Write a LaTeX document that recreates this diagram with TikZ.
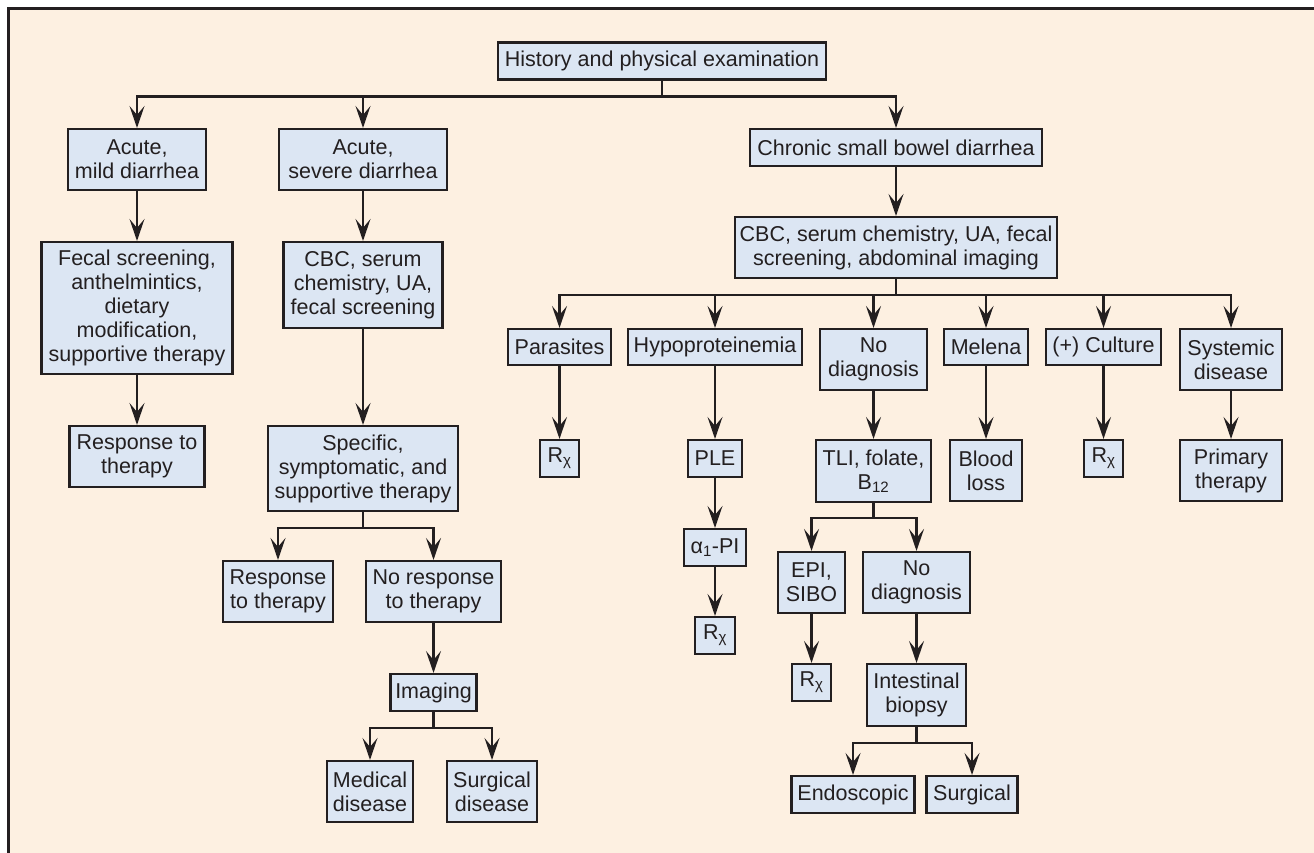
\documentclass[tikz,border=0pt]{standalone}
\usepackage{fontspec}
\setmainfont{Liberation Sans}
\usetikzlibrary{arrows.meta}
\definecolor{bg}{HTML}{FDF0E1}
\definecolor{boxfill}{HTML}{DCE6F3}
\definecolor{ink}{HTML}{231F20}
\begin{document}
\begin{tikzpicture}[x=1pt,y=-1pt,
  box/.style={draw=ink, fill=boxfill, line width=2.1pt, text=ink, align=center,
    inner xsep=3pt, inner ysep=2pt, font=\fontsize{21.5}{24}\selectfont},
  sz/.style 2 args={minimum width=#1pt, minimum height=#2pt},
  arr/.style={draw=ink, line width=2.1pt, -{Stealth[length=22pt,width=15pt,inset=9pt]}}]
\useasboundingbox (0,0) rectangle (1314,853);
\fill[white] (0,0) rectangle (1314,853);
\fill[bg] (8,9) rectangle (1314,853);
\draw[ink, line width=3pt] (8,853) -- (8,9) -- (1314,9);

% top
\node[box, sz={328}{37}] (top) at (662,61) {History and physical examination};
% left branch
\node[box, sz={138}{61}] (am) at (137,159.5) {Acute,\\mild diarrhea};
\node[box, sz={191}{132}] (fs) at (137,308) {Fecal screening,\\anthelmintics,\\dietary\\modification,\\supportive therapy};
\node[box, sz={135}{61}] (rt1) at (137,456.5) {Response to\\therapy};
% middle branch
\node[box, sz={168}{61}] (as) at (363,159.5) {Acute,\\severe diarrhea};
\node[box, sz={159}{86}] (cbc1) at (363,285) {CBC, serum\\chemistry, UA,\\fecal screening};
\node[box, sz={190}{85}] (spec) at (363,468.5) {Specific,\\symptomatic, and\\supportive therapy};
\node[box, sz={110}{61}] (rt2) at (278,591.5) {Response\\to therapy};
\node[box, sz={135}{61}] (nr) at (433.5,591.5) {No response\\to therapy};
\node[box, sz={86}{37}] (img) at (433.5,692.5) {Imaging};
\node[box, sz={86}{61}] (med) at (370,791.5) {Medical\\disease};
\node[box, sz={90}{61}] (sdis) at (492,791.5) {Surgical\\disease};
% right branch
\node[box, sz={292}{37}] (ch) at (896,147.5) {Chronic small bowel diarrhea};
\node[box, sz={322}{61}] (cbc2) at (896,247.5) {CBC, serum chemistry, UA, fecal\\screening, abdominal imaging};
\node[box, sz={103}{36}] (par) at (559.5,347) {Parasites};
\node[box, sz={174}{36}] (hyp) at (715,347) {Hypoproteinemia};
\node[box, sz={107}{61}] (nd1) at (873.5,359.5) {No\\diagnosis};
\node[box, sz={84}{36}] (mel) at (986,347) {Melena};
\node[box, sz={115}{36}] (cul) at (1103.5,347) {(+) Culture};
\node[box, sz={102}{61}] (sys) at (1231,359.5) {Systemic\\disease};
\node[box, sz={39}{37}] (rx1) at (559.5,458.5) {R\textsubscript{χ}};
\node[box, sz={54}{37}] (ple) at (715,458.5) {PLE};
\node[box, sz={115}{62}] (tli) at (873.5,471) {TLI, folate,\\B\textsubscript{12}};
\node[box, sz={72}{61}] (bl) at (986,470.5) {Blood\\loss};
\node[box, sz={39}{37}] (rx4) at (1103.5,458.5) {R\textsubscript{χ}};
\node[box, sz={102}{61}] (pt) at (1231,470.5) {Primary\\therapy};
\node[box, sz={62}{37}] (api) at (715,547.5) {α\textsubscript{1}-PI};
\node[box, sz={40}{37}] (rx2) at (715,635.5) {R\textsubscript{χ}};
\node[box, sz={67}{61}] (epi) at (811.5,582.5) {EPI,\\SIBO};
\node[box, sz={107}{61}] (nd2) at (916.5,582.5) {No\\diagnosis};
\node[box, sz={39}{37}] (rx3) at (811.5,682.5) {R\textsubscript{χ}};
\node[box, sz={99}{62}] (ib) at (916.5,695) {Intestinal\\biopsy};
\node[box, sz={123}{37}] (endo) at (853,794.5) {Endoscopic};
\node[box, sz={91}{37}] (sur) at (972,794.5) {Surgical};

% connectors
\draw[arr] (top.south) -- ++(0,16) -| (am.north);
\draw[arr] (top.south) -- ++(0,16) -| (as.north);
\draw[arr] (top.south) -- ++(0,16) -| (ch.north);
\draw[arr] (am) -- (fs);
\draw[arr] (fs) -- (rt1);
\draw[arr] (as) -- (cbc1);
\draw[arr] (cbc1) -- (spec);
\draw[arr] (spec.south) -- ++(0,16) -| (rt2.north);
\draw[arr] (spec.south) -- ++(0,16) -| (nr.north);
\draw[arr] (nr) -- (img);
\draw[arr] (img.south) -- ++(0,16) -| (med.north);
\draw[arr] (img.south) -- ++(0,16) -| (sdis.north);
\draw[arr] (ch) -- (cbc2);
\draw[arr] (cbc2.south) -- ++(0,16) -| (par.north);
\draw[arr] (cbc2.south) -- ++(0,16) -| (hyp.north);
\draw[arr] (cbc2.south) -- ++(0,16) -| (nd1.north);
\draw[arr] (cbc2.south) -- ++(0,16) -| (mel.north);
\draw[arr] (cbc2.south) -- ++(0,16) -| (cul.north);
\draw[arr] (cbc2.south) -- ++(0,16) -| (sys.north);
\draw[arr] (par) -- (rx1);
\draw[arr] (hyp) -- (ple);
\draw[arr] (ple) -- (api);
\draw[arr] (api) -- (rx2);
\draw[arr] (nd1) -- (tli);
\draw[arr] (tli.south) -- ++(0,15) -| (epi.north);
\draw[arr] (tli.south) -- ++(0,15) -| (nd2.north);
\draw[arr] (epi) -- (rx3);
\draw[arr] (nd2) -- (ib);
\draw[arr] (ib.south) -- ++(0,16) -| (endo.north);
\draw[arr] (ib.south) -- ++(0,16) -| (sur.north);
\draw[arr] (mel) -- (bl);
\draw[arr] (cul) -- (rx4);
\draw[arr] (sys) -- (pt);
\end{tikzpicture}
\end{document}
